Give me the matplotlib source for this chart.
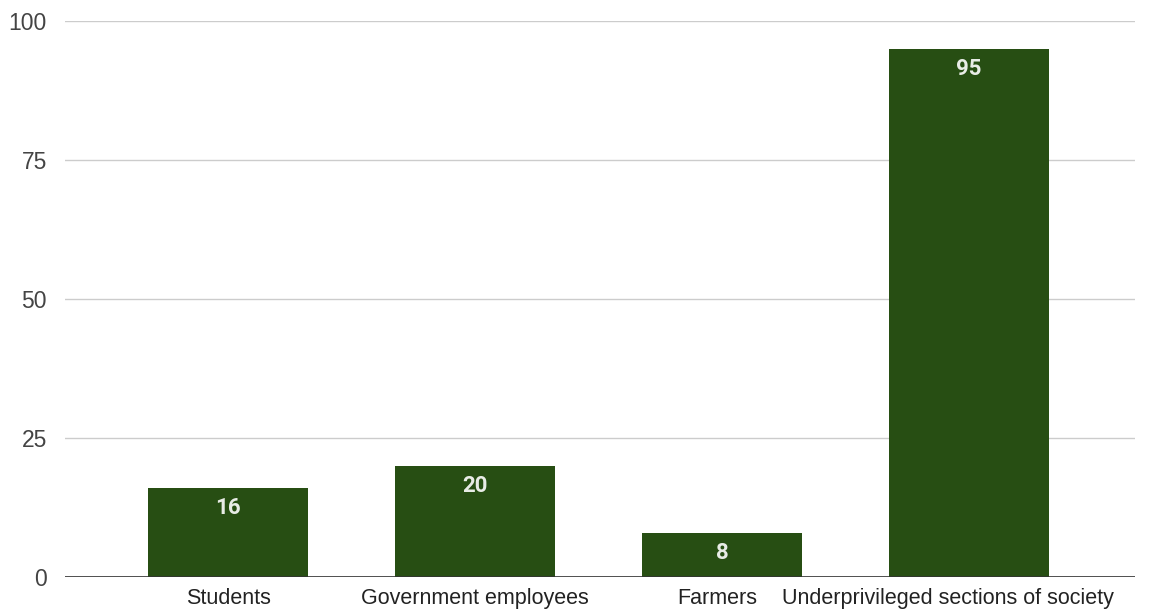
import matplotlib.pyplot as plt
import matplotlib.transforms as mtransforms

categories = ["Students", "Government employees", "Farmers", "Underprivileged sections of society"]
counts = [16, 20, 8, 95]
y_ticks = [0, 25, 50, 75, 100]

BAR_COLOR = "#274e13"

plt.rcParams["font.family"] = ["Liberation Sans", "DejaVu Sans"]

fig = plt.figure(figsize=(11.68, 6.14), dpi=100)
ax = fig.add_axes([65 / 1168, 1 - 577 / 614, 1070 / 1168, 556 / 614])

x = list(range(len(categories)))
bars = ax.bar(x, counts, width=0.648, color=BAR_COLOR, zorder=3)

for b, v in zip(bars, counts):
    ax.annotate(str(v), (b.get_x() + b.get_width() / 2, v), xytext=(0, -20),
                textcoords="offset pixels", ha="center", va="center",
                color="#e8ece6", fontsize=16, fontweight="bold", zorder=4,
                family=["Roboto", "DejaVu Sans"])

ax.set_xlim(-0.66, 3.672)
ax.set_ylim(0, 100)
ax.set_yticks(y_ticks)
ax.set_yticklabels([str(t) for t in y_ticks], fontsize=16.5, color="#444444")
ax.set_xticks(x)
ax.set_xticklabels(categories, fontsize=15.5, color="#222222")
ax.tick_params(axis="both", length=0)
ax.tick_params(axis="y", pad=13)
ax.tick_params(axis="x", pad=8)

# nudge the two right-hand names left so the long one stays inside the plot
label_shift = [0, 0, -5, -21]
for lab, dx in zip(ax.get_xticklabels(), label_shift):
    lab.set_transform(lab.get_transform() +
                      mtransforms.ScaledTranslation(dx / 100, 0, fig.dpi_scale_trans))

ax.grid(axis="y", color="#cccccc", linewidth=1, zorder=0)
ax.axhline(0, color="#333333", linewidth=1.2, zorder=5)
for s in ax.spines.values():
    s.set_visible(False)

fig.savefig("out.png", dpi=100)
